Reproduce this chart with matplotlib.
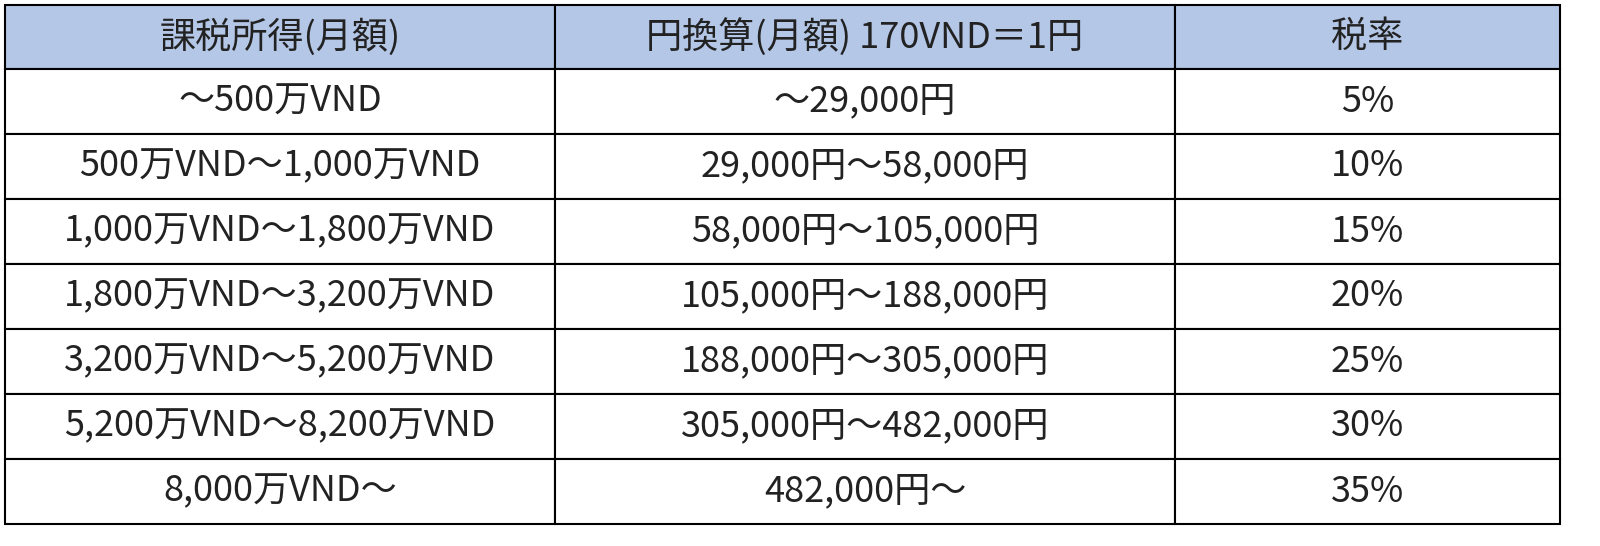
import matplotlib
matplotlib.use("Agg")
import matplotlib.pyplot as plt
from matplotlib.patches import Rectangle

plt.rcParams['font.family'] = ['Noto Sans CJK JP', 'DejaVu Sans']

headers = ["課税所得(月額)", "円換算(月額) 170VND＝1円", "税率"]
col_vnd = ["～500万VND", "500万VND～1,000万VND", "1,000万VND～1,800万VND",
           "1,800万VND～3,200万VND", "3,200万VND～5,200万VND",
           "5,200万VND～8,200万VND", "8,000万VND～"]
col_yen = ["～29,000円", "29,000円～58,000円", "58,000円～105,000円",
           "105,000円～188,000円", "188,000円～305,000円",
           "305,000円～482,000円", "482,000円～"]
col_rate = ["5%", "10%", "15%", "20%", "25%", "30%", "35%"]

xs = [5, 555, 1175, 1560]
ys = [5, 69, 134, 199, 264, 329, 394, 459, 524]

fig = plt.figure(figsize=(16, 5.46), dpi=100)
ax = fig.add_axes([0, 0, 1, 1])
ax.set_xlim(0, 1600)
ax.set_ylim(546, 0)
ax.axis('off')

rows = [headers] + [list(r) for r in zip(col_vnd, col_yen, col_rate)]
for i, row in enumerate(rows):
    for j, txt in enumerate(row):
        x0, x1 = xs[j], xs[j + 1]
        y0, y1 = ys[i], ys[i + 1]
        ax.add_patch(Rectangle((x0, y0), x1 - x0, y1 - y0,
                               facecolor='#B4C7E7' if i == 0 else 'white',
                               edgecolor='black', linewidth=1.5))
        ax.text((x0 + x1) / 2, (y0 + y1) / 2, txt, ha='center', va='center',
                fontsize=26, color='#222222')

fig.savefig("out.png", dpi=100)
